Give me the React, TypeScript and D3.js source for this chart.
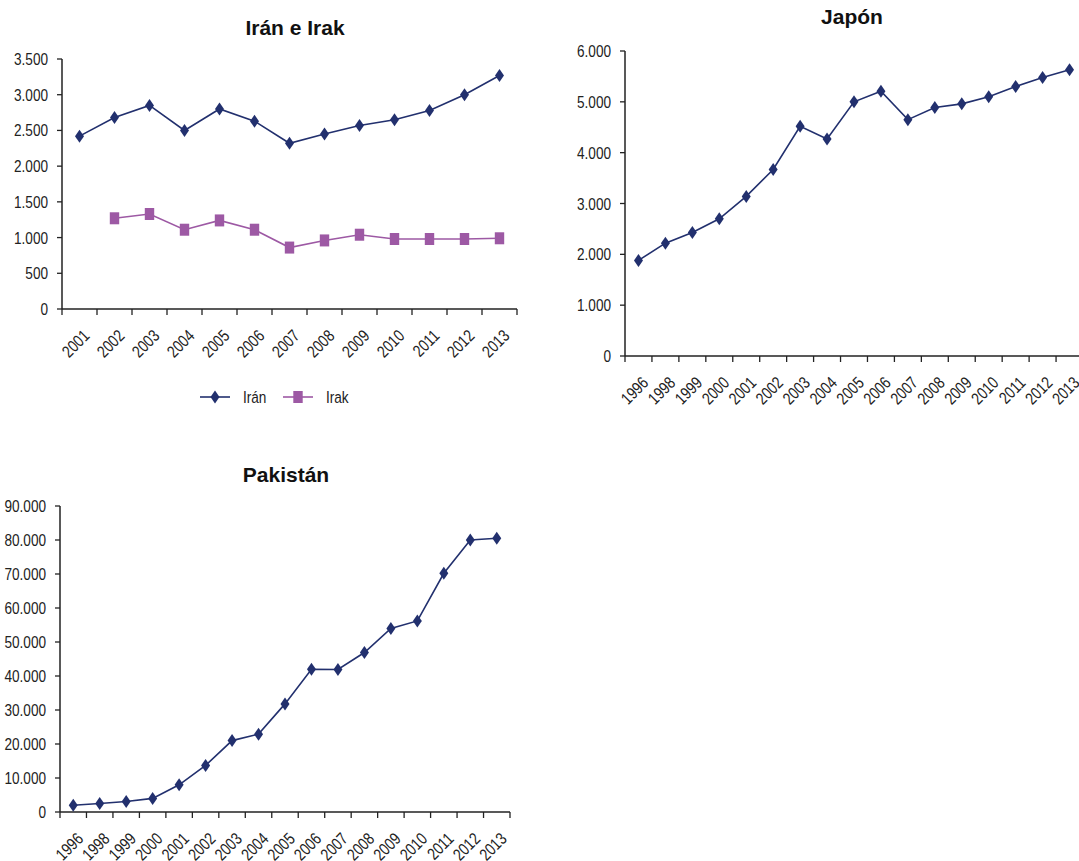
import React, { useEffect, useRef } from 'react';
import * as d3 from 'd3';

// --- data ---
const iranYears = ['2001', '2002', '2003', '2004', '2005', '2006', '2007', '2008', '2009', '2010', '2011', '2012', '2013'];
const iranValues = [2420, 2680, 2850, 2500, 2800, 2630, 2320, 2450, 2570, 2650, 2780, 3000, 3270];
const irakValues: (number | null)[] = [null, 1270, 1330, 1110, 1240, 1110, 860, 960, 1040, 980, 980, 980, 990];
const iranTicks = [0, 500, 1000, 1500, 2000, 2500, 3000, 3500];

const longYears = ['1996', '1998', '1999', '2000', '2001', '2002', '2003', '2004', '2005', '2006', '2007', '2008', '2009', '2010', '2011', '2012', '2013'];
const japanValues = [1880, 2220, 2430, 2700, 3140, 3670, 4520, 4270, 5000, 5210, 4650, 4890, 4960, 5100, 5300, 5480, 5630];
const japanTicks = [0, 1000, 2000, 3000, 4000, 5000, 6000];

const pakistanValues = [2000, 2500, 3100, 4000, 8000, 13700, 21000, 22900, 31800, 42000, 41900, 46900, 54000, 56200, 70200, 80000, 80500];
const pakistanTicks = [0, 10000, 20000, 30000, 40000, 50000, 60000, 70000, 80000, 90000];

const NAVY = '#22306e';
const PURPLE = '#9d59a4';
const AXIS = '#222';
// no narrow font installed: squeeze Liberation Sans horizontally instead
const TICK_FONT = '"Liberation Sans", Arial, sans-serif';
const SQUEEZE = 'scale(0.8,1)';
const TITLE_FONT = '"Liberation Sans", Arial, sans-serif';

const fmt = d3.formatLocale({ decimal: ',', thousands: '.', grouping: [3], currency: ['', ''] }).format(',d');

interface Series {
  name: string;
  values: (number | null)[];
  color: string;
  marker: 'diamond' | 'square';
}

interface ChartSpec {
  title: string;
  titleX: number;
  titleY: number;
  categories: string[];
  series: Series[];
  ticks: number[];
  left: number;
  right: number;
  top: number;
  bottom: number;
}

type G = d3.Selection<SVGGElement, unknown, null, undefined>;

const drawMarker = (g: G, kind: string, x: number, y: number, color: string) => {
  if (kind === 'diamond') {
    g.append('path')
      .attr('d', `M${x},${y - 6.5}L${x + 4.5},${y}L${x},${y + 6.5}L${x - 4.5},${y}Z`)
      .attr('fill', color);
  } else {
    g.append('rect')
      .attr('x', x - 4.7)
      .attr('y', y - 6)
      .attr('width', 9.4)
      .attr('height', 12)
      .attr('fill', color);
  }
};

const tickText = (g: G, transform: string, anchor: string, label: string) =>
  g.append('text')
    .attr('transform', `${transform} ${SQUEEZE}`)
    .attr('text-anchor', anchor)
    .style('font-family', TICK_FONT)
    .style('font-size', '17px')
    .attr('fill', AXIS)
    .text(label);

const drawChart = (svg: d3.Selection<SVGSVGElement, unknown, null, undefined>, c: ChartSpec) => {
  const g = svg.append('g');
  const x = d3.scaleBand().domain(c.categories).range([c.left, c.right]);
  const y = d3.scaleLinear().domain([0, d3.max(c.ticks) as number]).range([c.bottom, c.top]);

  // title
  g.append('text')
    .attr('x', c.titleX)
    .attr('y', c.titleY)
    .attr('text-anchor', 'middle')
    .style('font-family', TITLE_FONT)
    .style('font-weight', 'bold')
    .style('font-size', '21px')
    .attr('fill', '#111')
    .text(c.title);

  // y axis
  g.append('line')
    .attr('x1', c.left).attr('x2', c.left)
    .attr('y1', y(d3.max(c.ticks) as number)).attr('y2', c.bottom)
    .attr('stroke', AXIS).attr('stroke-width', 1.5);
  c.ticks.forEach((t) => {
    g.append('line')
      .attr('x1', c.left - 5).attr('x2', c.left)
      .attr('y1', y(t)).attr('y2', y(t))
      .attr('stroke', AXIS).attr('stroke-width', 1.3);
    tickText(g, `translate(${c.left - 14},${y(t) + 6})`, 'end', fmt(t));
  });

  // x axis
  g.append('line')
    .attr('x1', c.left).attr('x2', c.right)
    .attr('y1', c.bottom).attr('y2', c.bottom)
    .attr('stroke', AXIS).attr('stroke-width', 1.5);
  const bw = x.bandwidth();
  c.categories.forEach((cat, i) => {
    const x0 = x(cat) as number;
    g.append('line')
      .attr('x1', x0).attr('x2', x0)
      .attr('y1', c.bottom).attr('y2', c.bottom + 6)
      .attr('stroke', AXIS).attr('stroke-width', 1.3);
    if (i === c.categories.length - 1) {
      g.append('line')
        .attr('x1', x0 + bw).attr('x2', x0 + bw)
        .attr('y1', c.bottom).attr('y2', c.bottom + 6)
        .attr('stroke', AXIS).attr('stroke-width', 1.3);
    }
    const cx = x0 + bw / 2;
    tickText(g, `translate(${cx + 11},${c.bottom + 28}) rotate(-45)`, 'end', cat);
  });

  // series
  c.series.forEach((s) => {
    const pts = c.categories
      .map((cat, i) => ({ cat, v: s.values[i] }))
      .filter((d) => d.v != null) as { cat: string; v: number }[];
    const line = d3.line<{ cat: string; v: number }>()
      .x((d) => (x(d.cat) as number) + bw / 2)
      .y((d) => y(d.v));
    g.append('path')
      .attr('d', line(pts) as string)
      .attr('fill', 'none')
      .attr('stroke', s.color)
      .attr('stroke-width', 1.6);
    pts.forEach((d) => drawMarker(g, s.marker, (x(d.cat) as number) + bw / 2, y(d.v), s.color));
  });
};

const App: React.FC = () => {
  const svgRef = useRef<SVGSVGElement | null>(null);

  useEffect(() => {
    if (!svgRef.current) return;
    const svg = d3.select(svgRef.current);
    svg.selectAll('*').remove();

    drawChart(svg, {
      title: 'Irán e Irak', titleX: 295, titleY: 35,
      categories: iranYears,
      series: [
        { name: 'Irán', values: iranValues, color: NAVY, marker: 'diamond' },
        { name: 'Irak', values: irakValues, color: PURPLE, marker: 'square' },
      ],
      ticks: iranTicks,
      left: 62, right: 517, top: 59, bottom: 309,
    });

    drawChart(svg, {
      title: 'Japón', titleX: 852, titleY: 24,
      categories: longYears,
      series: [{ name: 'Japón', values: japanValues, color: NAVY, marker: 'diamond' }],
      ticks: japanTicks,
      left: 625, right: 1083, top: 51, bottom: 356,
    });

    drawChart(svg, {
      title: 'Pakistán', titleX: 286, titleY: 482,
      categories: longYears,
      series: [{ name: 'Pakistán', values: pakistanValues, color: NAVY, marker: 'diamond' }],
      ticks: pakistanTicks,
      left: 60, right: 510, top: 506, bottom: 812,
    });

    // legend for Irán e Irak
    const leg = svg.append('g');
    const legendItems = [
      { name: 'Irán', color: NAVY, marker: 'diamond', x: 200 },
      { name: 'Irak', color: PURPLE, marker: 'square', x: 283 },
    ];
    legendItems.forEach((it) => {
      leg.append('line')
        .attr('x1', it.x).attr('x2', it.x + 30)
        .attr('y1', 397).attr('y2', 397)
        .attr('stroke', it.color).attr('stroke-width', 1.6);
      drawMarker(leg, it.marker, it.x + 15, 397, it.color);
      tickText(leg, `translate(${it.x + 43},${397 + 6})`, 'start', it.name);
    });
  }, []);

  return (
    <svg
      ref={svgRef}
      width={1079}
      height={861}
      style={{ position: 'absolute', left: 0, top: 0, background: '#fff' }}
    />
  );
};

export default App;
